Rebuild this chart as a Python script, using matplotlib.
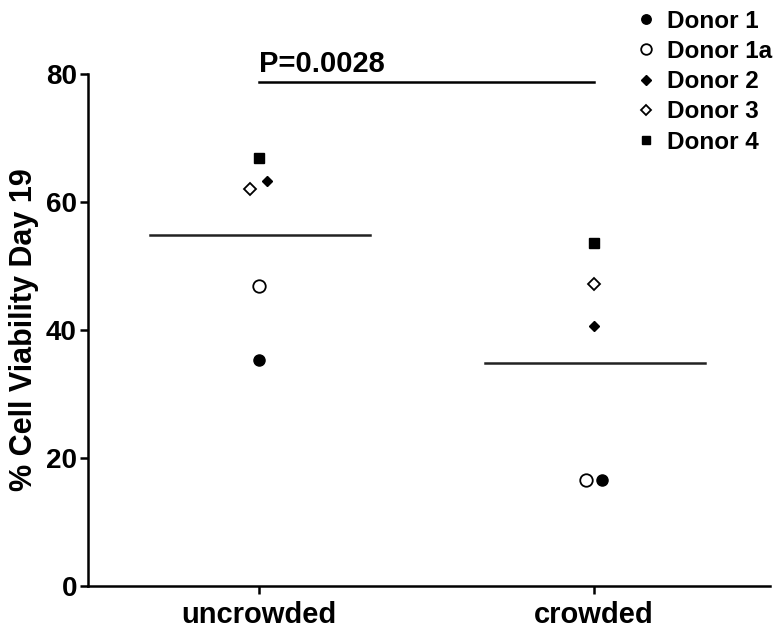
import numpy as np
import matplotlib.pyplot as plt

plt.rcParams['font.family'] = ['Liberation Sans', 'DejaVu Sans']
plt.rcParams['font.weight'] = 'bold'

groups = ['uncrowded', 'crowded']
donors = ['Donor 1', 'Donor 1a', 'Donor 2', 'Donor 3', 'Donor 4']

# viability (%) per donor, [uncrowded, crowded]
viability = {
    'Donor 1':  [35.3, 16.6],
    'Donor 1a': [46.9, 16.6],
    'Donor 2':  [63.3, 40.6],
    'Donor 3':  [62.0, 47.2],
    'Donor 4':  [66.9, 53.6],
}
# small horizontal offsets so overlapping points stay visible
jitter = {
    'Donor 1':  [0.0, 0.025],
    'Donor 1a': [0.0, -0.025],
    'Donor 2':  [0.025, 0.0],
    'Donor 3':  [-0.027, 0.0],
    'Donor 4':  [0.0, 0.0],
}
p_text = 'P=0.0028'

styles = {
    'Donor 1':  dict(marker='o', mfc='black', mec='black', ms=8),
    'Donor 1a': dict(marker='o', mfc='white', mec='black', ms=9, mew=1.3),
    'Donor 2':  dict(marker='D', mfc='black', mec='black', ms=5.5),
    'Donor 3':  dict(marker='D', mfc='white', mec='black', ms=6, mew=1.3),
    'Donor 4':  dict(marker='s', mfc='black', mec='black', ms=7.5),
}

fig = plt.figure(figsize=(7.77, 6.29), dpi=100)
ax = fig.add_axes([88/777, 43/629, 682/777, 512/629])

xpos = np.array([1, 2])
for d in donors:
    ax.plot(xpos + np.array(jitter[d]), viability[d], linestyle='none',
            label=d, **styles[d])

# group means
means = np.array([viability[d] for d in donors]).mean(axis=0)
for x, m in zip(xpos, means):
    ax.plot([x - 0.325, x + 0.33], [m, m], color='#222222', lw=1.8)

# significance bar
ax.plot([1, 2], [78.7, 78.7], color='black', lw=1.8, clip_on=False)
ax.text(1, 79.4, p_text, fontsize=21, fontweight='bold', ha='left', va='bottom')

ax.set_xlim(0.49, 2.525)
ax.set_ylim(0, 80)
ax.set_xticks(xpos)
ax.set_xticklabels(groups, fontsize=21)
ax.set_yticks([0, 20, 40, 60, 80])
ax.tick_params(axis='y', labelsize=20, width=1.8, length=6, pad=2)
ax.tick_params(axis='x', width=1.8, length=6, pad=5)
ax.set_ylabel('% Cell Viability Day 19', fontsize=22, fontweight='bold', labelpad=5)
for s in ['top', 'right']:
    ax.spines[s].set_visible(False)
for s in ['left', 'bottom']:
    ax.spines[s].set_linewidth(1.8)

fig.legend(loc='upper right', bbox_to_anchor=(1.013, 1.008), frameon=False,
           fontsize=17.5, handletextpad=0.38, labelspacing=0.3, markerscale=0.85,
           handlelength=1.0, borderaxespad=0.2)

fig.savefig('out.png', dpi=100)
